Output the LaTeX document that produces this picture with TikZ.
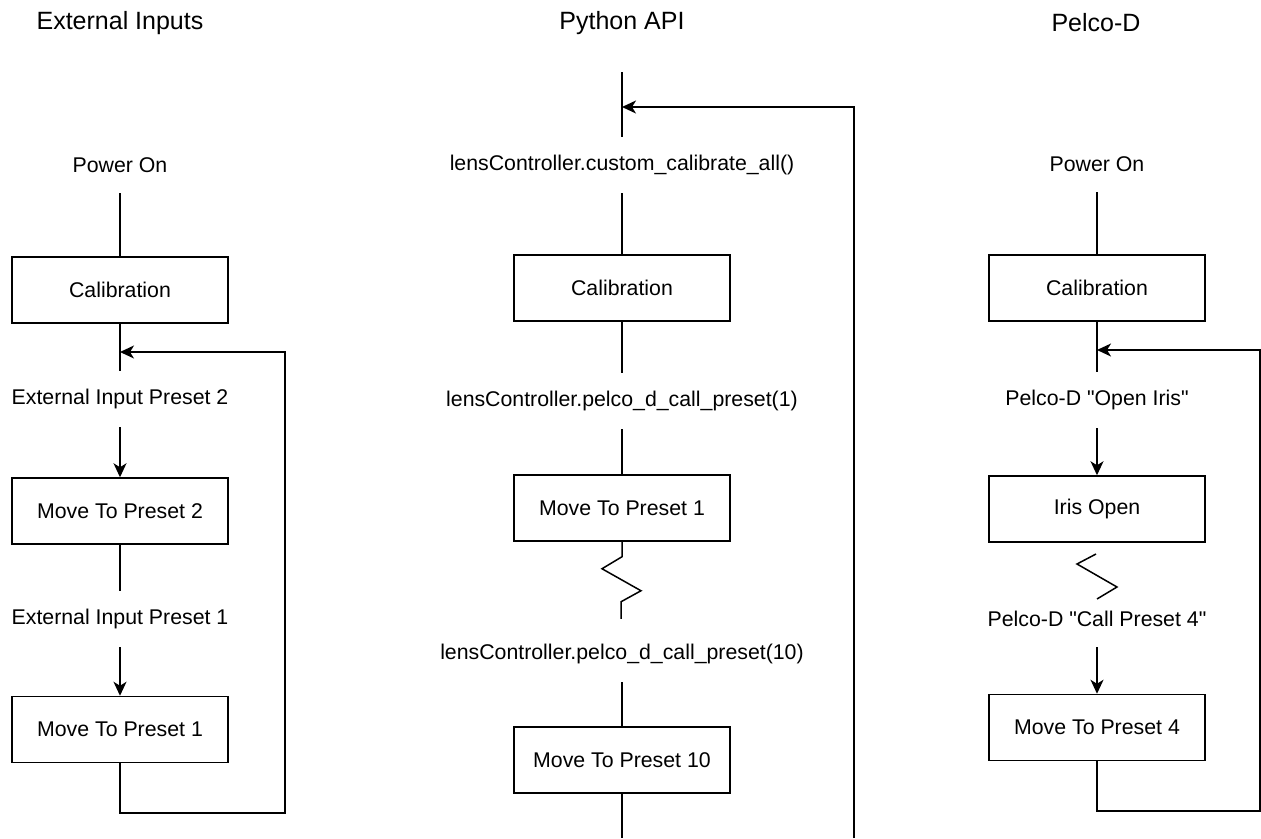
\documentclass[tikz,border=0pt]{standalone}
\usepackage{fontspec}
\setmainfont{Liberation Sans}[Ligatures=TeXOff]
\usetikzlibrary{arrows.meta}

\tikzset{
  box/.style={draw, line width=1.5pt, minimum width=216pt, minimum height=66pt, inner sep=0pt, font=\fontsize{21.3}{25}\selectfont},
  txt/.style={inner sep=0pt, minimum height=56pt, font=\fontsize{21.3}{25}\selectfont},
  title/.style={inner sep=0pt, font=\fontsize{25}{30}\selectfont},
  wire/.style={line width=1.5pt},
  arr/.style={wire, -{Stealth[length=14pt,width=13pt,inset=4pt]}},
}

\begin{document}
\begin{tikzpicture}[x=1pt,y=1pt,yscale=-1]
        \useasboundingbox (0,0) rectangle (1261,838);

        % Titles
        \node [title] (headA) at (120,23) {External Inputs};
        \node [title] (headB) at (622,23) {Python API};
        \node [title] (headC) at (1096,23) {Pelco-D};

        %Column: External Inputs
        \node [txt] (pwrA) at (120,165) {Power On};
        \node [box] (calA) at (120,290) {Calibration};
        \node [txt] (inA2) at (120,399) {External Input Preset 2};
        \node [box] (mvA2) at (120,511) {Move To Preset 2};
        \node [txt] (inA1) at (120,619) {External Input Preset 1};
        \node [box] (mvA1) at (120,729.5) {Move To Preset 1};
        \coordinate (backA) at (120,352);

        \draw [wire] (pwrA) -- (calA);
        \draw [wire] (calA) -- (inA2);
        \draw [arr] (inA2) -- (mvA2);
        \draw [wire] (mvA2) -- (inA1);
        \draw [arr] (inA1) -- (mvA1);
        \draw [arr] (mvA1.south) |- (285,813) |- (backA);

        %Column: Python API
        \coordinate (topB) at (622,72);
        \node [txt] (cmdB0) at (622,165) {lensController.custom\_calibrate\_all()};
        \node [box] (calB) at (622,288) {Calibration};
        \node [txt] (cmdB1) at (622,401) {lensController.pelco\_d\_call\_preset(1)};
        \node [box] (mvB1) at (622,508) {Move To Preset 1};
        \node [txt] (cmdB10) at (622,654) {lensController.pelco\_d\_call\_preset(10)};
        \node [box] (mvB10) at (622,760) {Move To Preset 10};
        \coordinate (endB) at (622,838);
        \coordinate (retB) at (854,838);
        \coordinate (backB) at (622,107);

        \draw [wire] (topB) -- (cmdB0);
        \draw [wire] (cmdB0) -- (calB);
        \draw [wire] (calB) -- (cmdB1);
        \draw [wire] (cmdB1) -- (mvB1);
        % zigzag break
        \draw [wire] (mvB1.south) -- ++(0,15) -- ++(-20,12) -- ++(39,22) -- ++(-20,11) -- ++(0,17);
        \draw [wire] (cmdB10) -- (mvB10);
        \draw [wire] (mvB10) -- (endB);
        \draw [arr] (retB) |- (backB);

        %Column: Pelco-D
        \node [txt] (pwrC) at (1097,164) {Power On};
        \node [box] (calC) at (1097,288) {Calibration};
        \node [txt] (cmdC1) at (1097,400) {Pelco-D "Open Iris"};
        \node [box] (irisC) at (1097,509) {Iris Open};
        \node [txt] (cmdC2) at (1097,619) {Pelco-D "Call Preset 4"};
        \node [box] (mvC4) at (1097,727.5) {Move To Preset 4};
        \coordinate (backC) at (1097,350);

        \draw [wire] (pwrC) -- (calC);
        \draw [wire] (calC) -- (cmdC1);
        \draw [arr] (cmdC1) -- (irisC);
        % zigzag break
        \draw [wire] (1096,554) -- (1077,564) -- (1117,587) -- (1097,599);
        \draw [arr] (cmdC2) -- (mvC4);
        \draw [arr] (mvC4.south) |- (1260,811) |- (backC);

\end{tikzpicture}
\end{document}
